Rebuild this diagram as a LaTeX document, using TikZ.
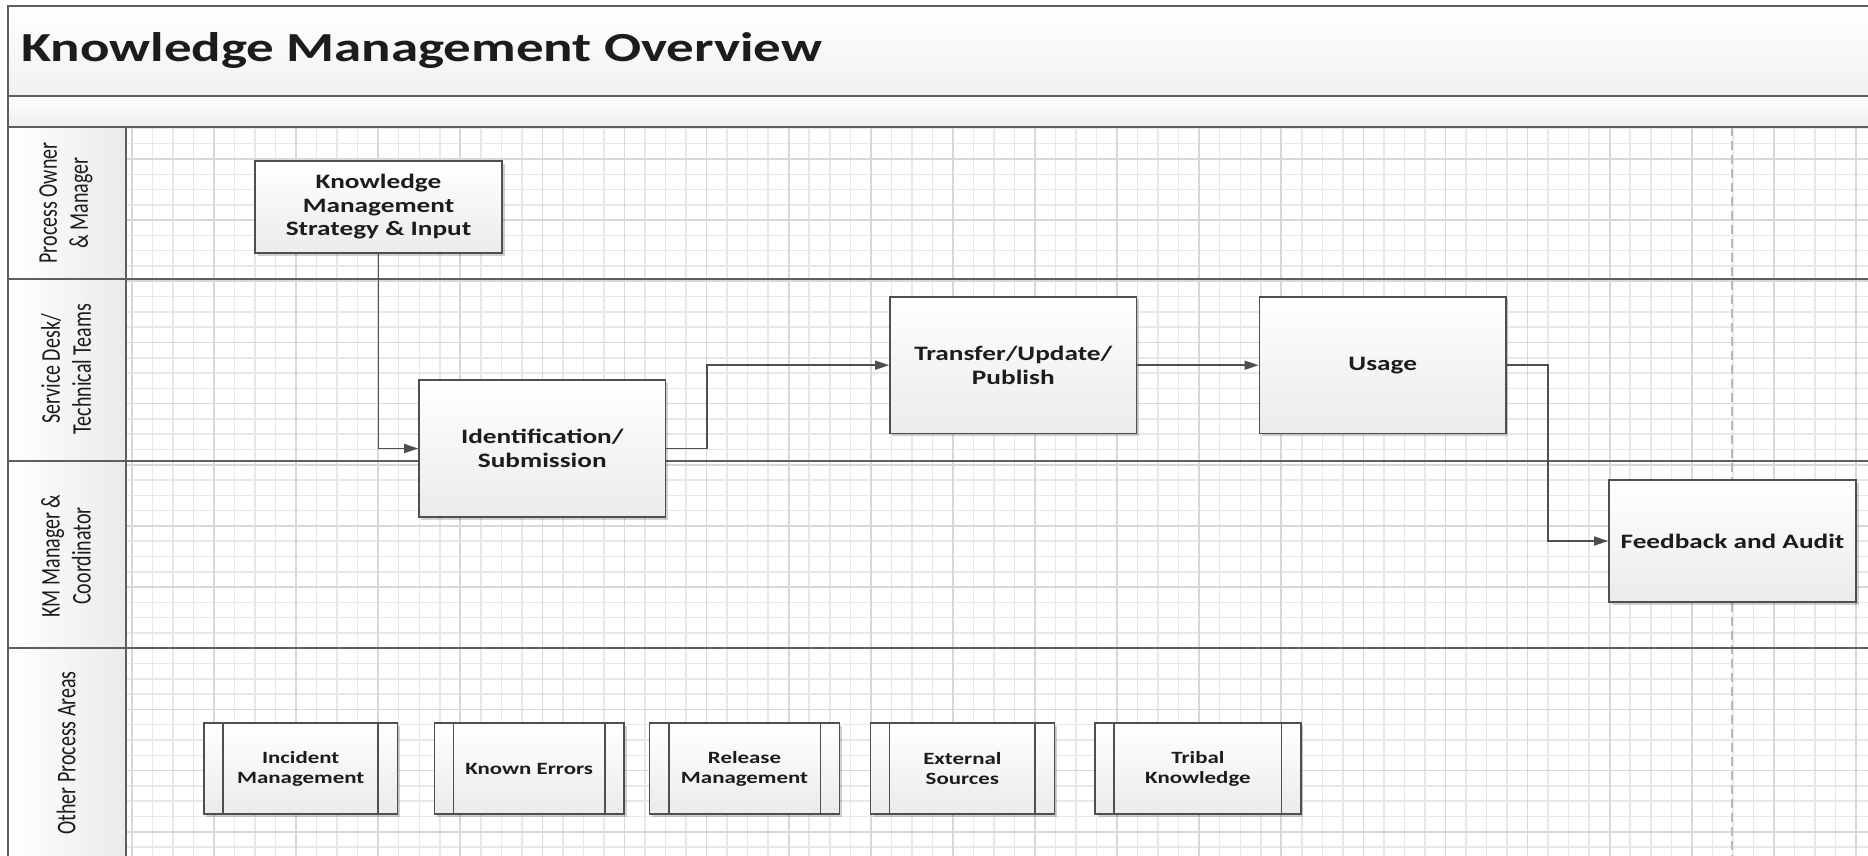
\documentclass[tikz,border=0pt]{standalone}
\usepackage{fontspec}
\setmainfont{Carlito}
\newfontfamily\boxfont[FakeStretch=1.33]{Carlito}
\newfontfamily\lanefont[FakeStretch=0.74]{Carlito}
\usetikzlibrary{arrows.meta,shadows}
\definecolor{frameln}{HTML}{5E5E5E}
\definecolor{boxln}{HTML}{4F4F4F}
\definecolor{gridminor}{HTML}{E8E8E8}
\definecolor{gridmajor}{HTML}{D8D8D8}
\definecolor{txt}{HTML}{1C1C1C}
\definecolor{shadebot}{HTML}{EBEBEB}
\begin{document}
\begin{tikzpicture}[x=1pt,y=-1pt,
  frame/.style={draw=frameln, line width=1.8pt},
  proc/.style={draw=boxln, line width=1.6pt, top color=white, bottom color=shadebot,
    text=txt, align=center, inner sep=0pt,
    drop shadow={shadow xshift=2.5pt, shadow yshift=-2.5pt, fill=black, opacity=0.18},
    font=\boxfont\bfseries\fontsize{20.5}{23.5}\selectfont},
  subproc/.style={proc, minimum height=91pt,
    font=\boxfont\bfseries\fontsize{17.2}{20}\selectfont},
  lanelabel/.style={rotate=90, align=center, text=txt,
    font=\lanefont\fontsize{27}{31}\selectfont},
  conn/.style={draw=boxln, line width=1.6pt, -{Triangle[length=14pt,width=9pt]}}
]
\useasboundingbox (0,0) rectangle (1868,856);
\fill[white] (0,0) rectangle (1868,856);
% grid
\foreach \k in {0,...,84}
  \draw[gridminor, line width=1.5pt] (131.9+20.525*\k,127) -- (131.9+20.525*\k,856);
\foreach \k in {0,...,47}
  \draw[gridminor, line width=1.5pt] (126,128.4+15.29*\k) -- (1868,128.4+15.29*\k);
\foreach \k in {0,...,21}
  \draw[gridmajor, line width=1.7pt] (131.9+82.1*\k,127) -- (131.9+82.1*\k,856);
\foreach \k in {0,...,11}
  \draw[gridmajor, line width=1.7pt] (126,159+61.16*\k) -- (1868,159+61.16*\k);
\draw[gray!55, line width=1.3pt, dash pattern=on 9pt off 5pt] (1732,127) -- (1732,856);
% bands and lane column
\fill[top color=white, bottom color=gray!11] (8,6) rectangle (1868,96);
\fill[top color=white, bottom color=gray!13] (8,96) rectangle (1868,127);
\fill[left color=white, right color=gray!16] (8,127) rectangle (126,856);
\draw[frame] (1868,6) -- (8,6) -- (8,856);
\draw[frame] (8,96) -- (1868,96);
\draw[frame] (8,127) -- (1868,127);
\draw[frame] (126,127) -- (126,856);
\draw[frame] (8,279) -- (1868,279);
\draw[frame] (8,461) -- (1868,461);
\draw[frame] (8,648) -- (1868,648);
% title
\node[anchor=base west, inner sep=0pt, text=txt,
  font=\boxfont\bfseries\fontsize{41.3}{48}\selectfont] (title) at (21,62)
  {Knowledge Management Overview};
% lane labels
\node[lanelabel] (l1) at (66,203) {Process Owner\\\& Manager};
\node[lanelabel] (l2) at (66,369) {Service Desk/\\Technical Teams};
\node[lanelabel] (l3) at (66,556) {KM Manager \&\\Coordinator};
\node[lanelabel] (l4) at (66,753) {Other Process Areas};
% process boxes
\node[proc, minimum width=247pt, minimum height=92pt] (km) at (378.5,207)
  {Knowledge\\Management\\Strategy \& Input};
\node[proc, minimum width=246.7pt, minimum height=137pt] (ident) at (542.3,448.5)
  {Identification/\\Submission};
\node[proc, minimum width=246.7pt, minimum height=136.5pt] (trans) at (1013.3,365.2)
  {Transfer/Update/\\Publish};
\node[proc, minimum width=246.5pt, minimum height=136.5pt] (usage) at (1382.7,365.2)
  {Usage};
\node[proc, minimum width=247pt, minimum height=122pt] (fb) at (1732.5,541)
  {Feedback and Audit};
% other process areas (predefined process)
\node[subproc, minimum width=193.5pt] (inc) at (300.7,768.5) {Incident\\Management};
\node[subproc, minimum width=189.6pt] (kerr) at (529.2,768.5) {Known Errors};
\node[subproc, minimum width=190pt] (rel) at (744.5,768.5) {Release\\Management};
\node[subproc, minimum width=184pt] (ext) at (962.4,768.5) {External\\Sources};
\node[subproc, minimum width=205.8pt] (trib) at (1197.9,768.5) {Tribal\\Knowledge};
\foreach \n in {inc,kerr,rel,ext,trib} {
  \draw[boxln, line width=1.6pt] ([xshift=20pt]\n.north west) -- ([xshift=20pt]\n.south west);
  \draw[boxln, line width=1.6pt] ([xshift=-20pt]\n.north east) -- ([xshift=-20pt]\n.south east);
}
% connectors
\draw[conn] (km.south) |- (ident.west);
\draw[conn] (ident.east) -- ++(40.3,0) |- (trans.west);
\draw[conn] (trans.east) -- (usage.west);
\draw[conn] (usage.east) -- ++(41,0) |- (fb.west);
\end{tikzpicture}
\end{document}
